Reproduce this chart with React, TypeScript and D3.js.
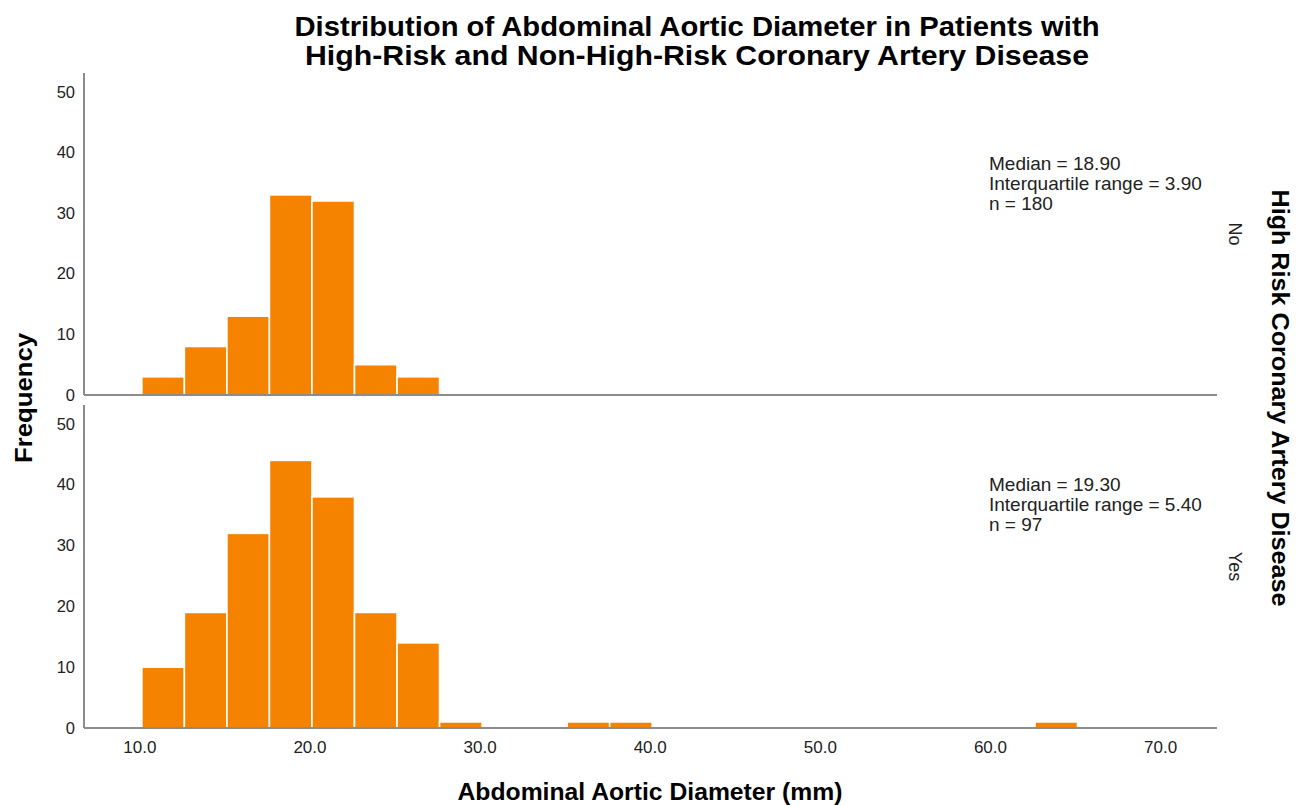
// App.tsx
// Note: Faceted histogram (SPSS-style) of abdominal aortic diameter, drawn with d3
//..............................................................................
import React, { useEffect, useRef } from "react";
import * as d3 from "d3";

// bin lower edges (mm), bin width 2.5
const binStarts = [
  10.0, 12.5, 15.0, 17.5, 20.0, 22.5, 25.0, 27.5, 30.0, 32.5, 35.0,
  37.5, 40.0, 42.5, 45.0, 47.5, 50.0, 52.5, 55.0, 57.5, 60.0, 62.5,
];
const binWidth = 2.5;

const countsNo = [3, 8, 13, 33, 32, 5, 3, 0, 0, 0, 0, 0, 0, 0, 0, 0, 0, 0, 0, 0, 0, 0];
const countsYes = [10, 19, 32, 44, 38, 19, 14, 1, 0, 0, 1, 1, 0, 0, 0, 0, 0, 0, 0, 0, 0, 1];

const panelLabels = ["No", "Yes"];
const statsNo = ["Median = 18.90", "Interquartile range = 3.90", "n = 180"];
const statsYes = ["Median = 19.30", "Interquartile range = 5.40", "n = 97"];

const xTicks = [10, 20, 30, 40, 50, 60, 70];
const yTicks = [0, 10, 20, 30, 40, 50];

const titleLines = [
  "Distribution of Abdominal Aortic Diameter in Patients with",
  "High-Risk and Non-High-Risk Coronary Artery Disease",
];

const W = 1304;
const H = 805;
const FONT = "'Liberation Sans', Arial, sans-serif";
const BAR = "#f58300";
const AXIS = "#8c8c8c";

export default function App() {
  const ref = useRef<SVGSVGElement>(null);

  useEffect(() => {
    const svg = d3.select(ref.current);
    svg.selectAll("*").remove();

    const left = 84;
    const right = 1217;
    const x = d3.scaleLinear().domain([6.6, 73.2]).range([left, right]);

    const panels = [
      { top: 73, bottom: 395, counts: countsNo, stats: statsNo, label: panelLabels[0], statY: 170 },
      { top: 405, bottom: 728, counts: countsYes, stats: statsYes, label: panelLabels[1], statY: 491 },
    ];

    panels.forEach((p, pi) => {
      const y = d3.scaleLinear().domain([0, 53.1]).range([p.bottom, p.top]);
      const g = svg.append("g");

      // bars
      const bins = binStarts
        .map((b, i) => ({ x0: b, x1: b + binWidth, n: p.counts[i] }))
        .filter((d) => d.n > 0);
      g.selectAll("rect")
        .data(bins)
        .enter()
        .append("rect")
        .attr("x", (d) => x(d.x0))
        .attr("width", (d) => x(d.x1) - x(d.x0))
        .attr("y", (d) => y(d.n))
        .attr("height", (d) => y(0) - y(d.n))
        .attr("fill", BAR)
        .attr("stroke", "#ffffff")
        .attr("stroke-width", 1.6);

      // axes lines
      g.append("line")
        .attr("x1", left).attr("x2", left)
        .attr("y1", p.top).attr("y2", p.bottom)
        .attr("stroke", AXIS).attr("stroke-width", 2);
      g.append("line")
        .attr("x1", left).attr("x2", right)
        .attr("y1", p.bottom).attr("y2", p.bottom)
        .attr("stroke", AXIS).attr("stroke-width", 2);

      // y tick labels
      g.selectAll("text.yt")
        .data(yTicks)
        .enter()
        .append("text")
        .attr("class", "yt")
        .attr("x", 75)
        .attr("y", (d) => y(d))
        .attr("dy", "0.35em")
        .attr("text-anchor", "end")
        .style("font-family", FONT)
        .style("font-size", "16.5px")
        .style("fill", "#222")
        .text((d) => d);

      // stats (SPSS packs these lines tightly)
      p.stats.forEach((s, i) => {
        g.append("text")
          .attr("x", 989)
          .attr("y", p.statY + i * 20)
          .style("font-family", FONT)
          .style("font-size", "19px")
          .style("fill", "#222")
          .text(s);
      });

      // facet label
      g.append("text")
        .attr("transform", `translate(1229 ${(p.top + p.bottom) / 2}) rotate(90)`)
        .attr("text-anchor", "middle")
        .style("font-family", FONT)
        .style("font-size", "18px")
        .style("fill", "#222")
        .text(p.label);

      // x tick labels on the last panel
      if (pi === panels.length - 1) {
        g.selectAll("text.xt")
          .data(xTicks)
          .enter()
          .append("text")
          .attr("class", "xt")
          .attr("x", (d) => x(d) - 2)
          .attr("y", p.bottom + 25)
          .attr("text-anchor", "middle")
          .style("font-family", FONT)
          .style("font-size", "17px")
          .style("fill", "#222")
          .text((d) => d3.format(".1f")(d));
      }
    });

    // title
    svg.selectAll("text.title")
      .data(titleLines)
      .enter()
      .append("text")
      .attr("class", "title")
      .attr("x", 697)
      .attr("y", (d, i) => 36 + i * 29)
      .attr("text-anchor", "middle")
      .attr("textLength", (d, i) => (i === 0 ? 805 : 784))
      .attr("lengthAdjust", "spacingAndGlyphs")
      .style("font-family", FONT)
      .style("font-size", "28px")
      .style("font-weight", "bold")
      .style("fill", "#000")
      .text((d) => d);

    // axis titles
    svg.append("text")
      .attr("transform", "translate(32 398) rotate(-90)")
      .attr("text-anchor", "middle")
      .attr("textLength", 130)
      .attr("lengthAdjust", "spacingAndGlyphs")
      .style("font-family", FONT)
      .style("font-size", "24px")
      .style("font-weight", "bold")
      .text("Frequency");

    svg.append("text")
      .attr("x", 650)
      .attr("y", 800)
      .attr("text-anchor", "middle")
      .attr("textLength", 385)
      .attr("lengthAdjust", "spacingAndGlyphs")
      .style("font-family", FONT)
      .style("font-size", "23px")
      .style("font-weight", "bold")
      .text("Abdominal Aortic Diameter (mm)");

    svg.append("text")
      .attr("transform", "translate(1272 398) rotate(90)")
      .attr("text-anchor", "middle")
      .attr("textLength", 417)
      .attr("lengthAdjust", "spacingAndGlyphs")
      .style("font-family", FONT)
      .style("font-size", "23px")
      .style("font-weight", "bold")
      .text("High Risk Coronary Artery Disease");
  }, []);

  return (
    <svg
      ref={ref}
      width={W}
      height={H}
      style={{ position: "absolute", left: 0, top: 0, background: "#fff" }}
    />
  );
}

// eof
